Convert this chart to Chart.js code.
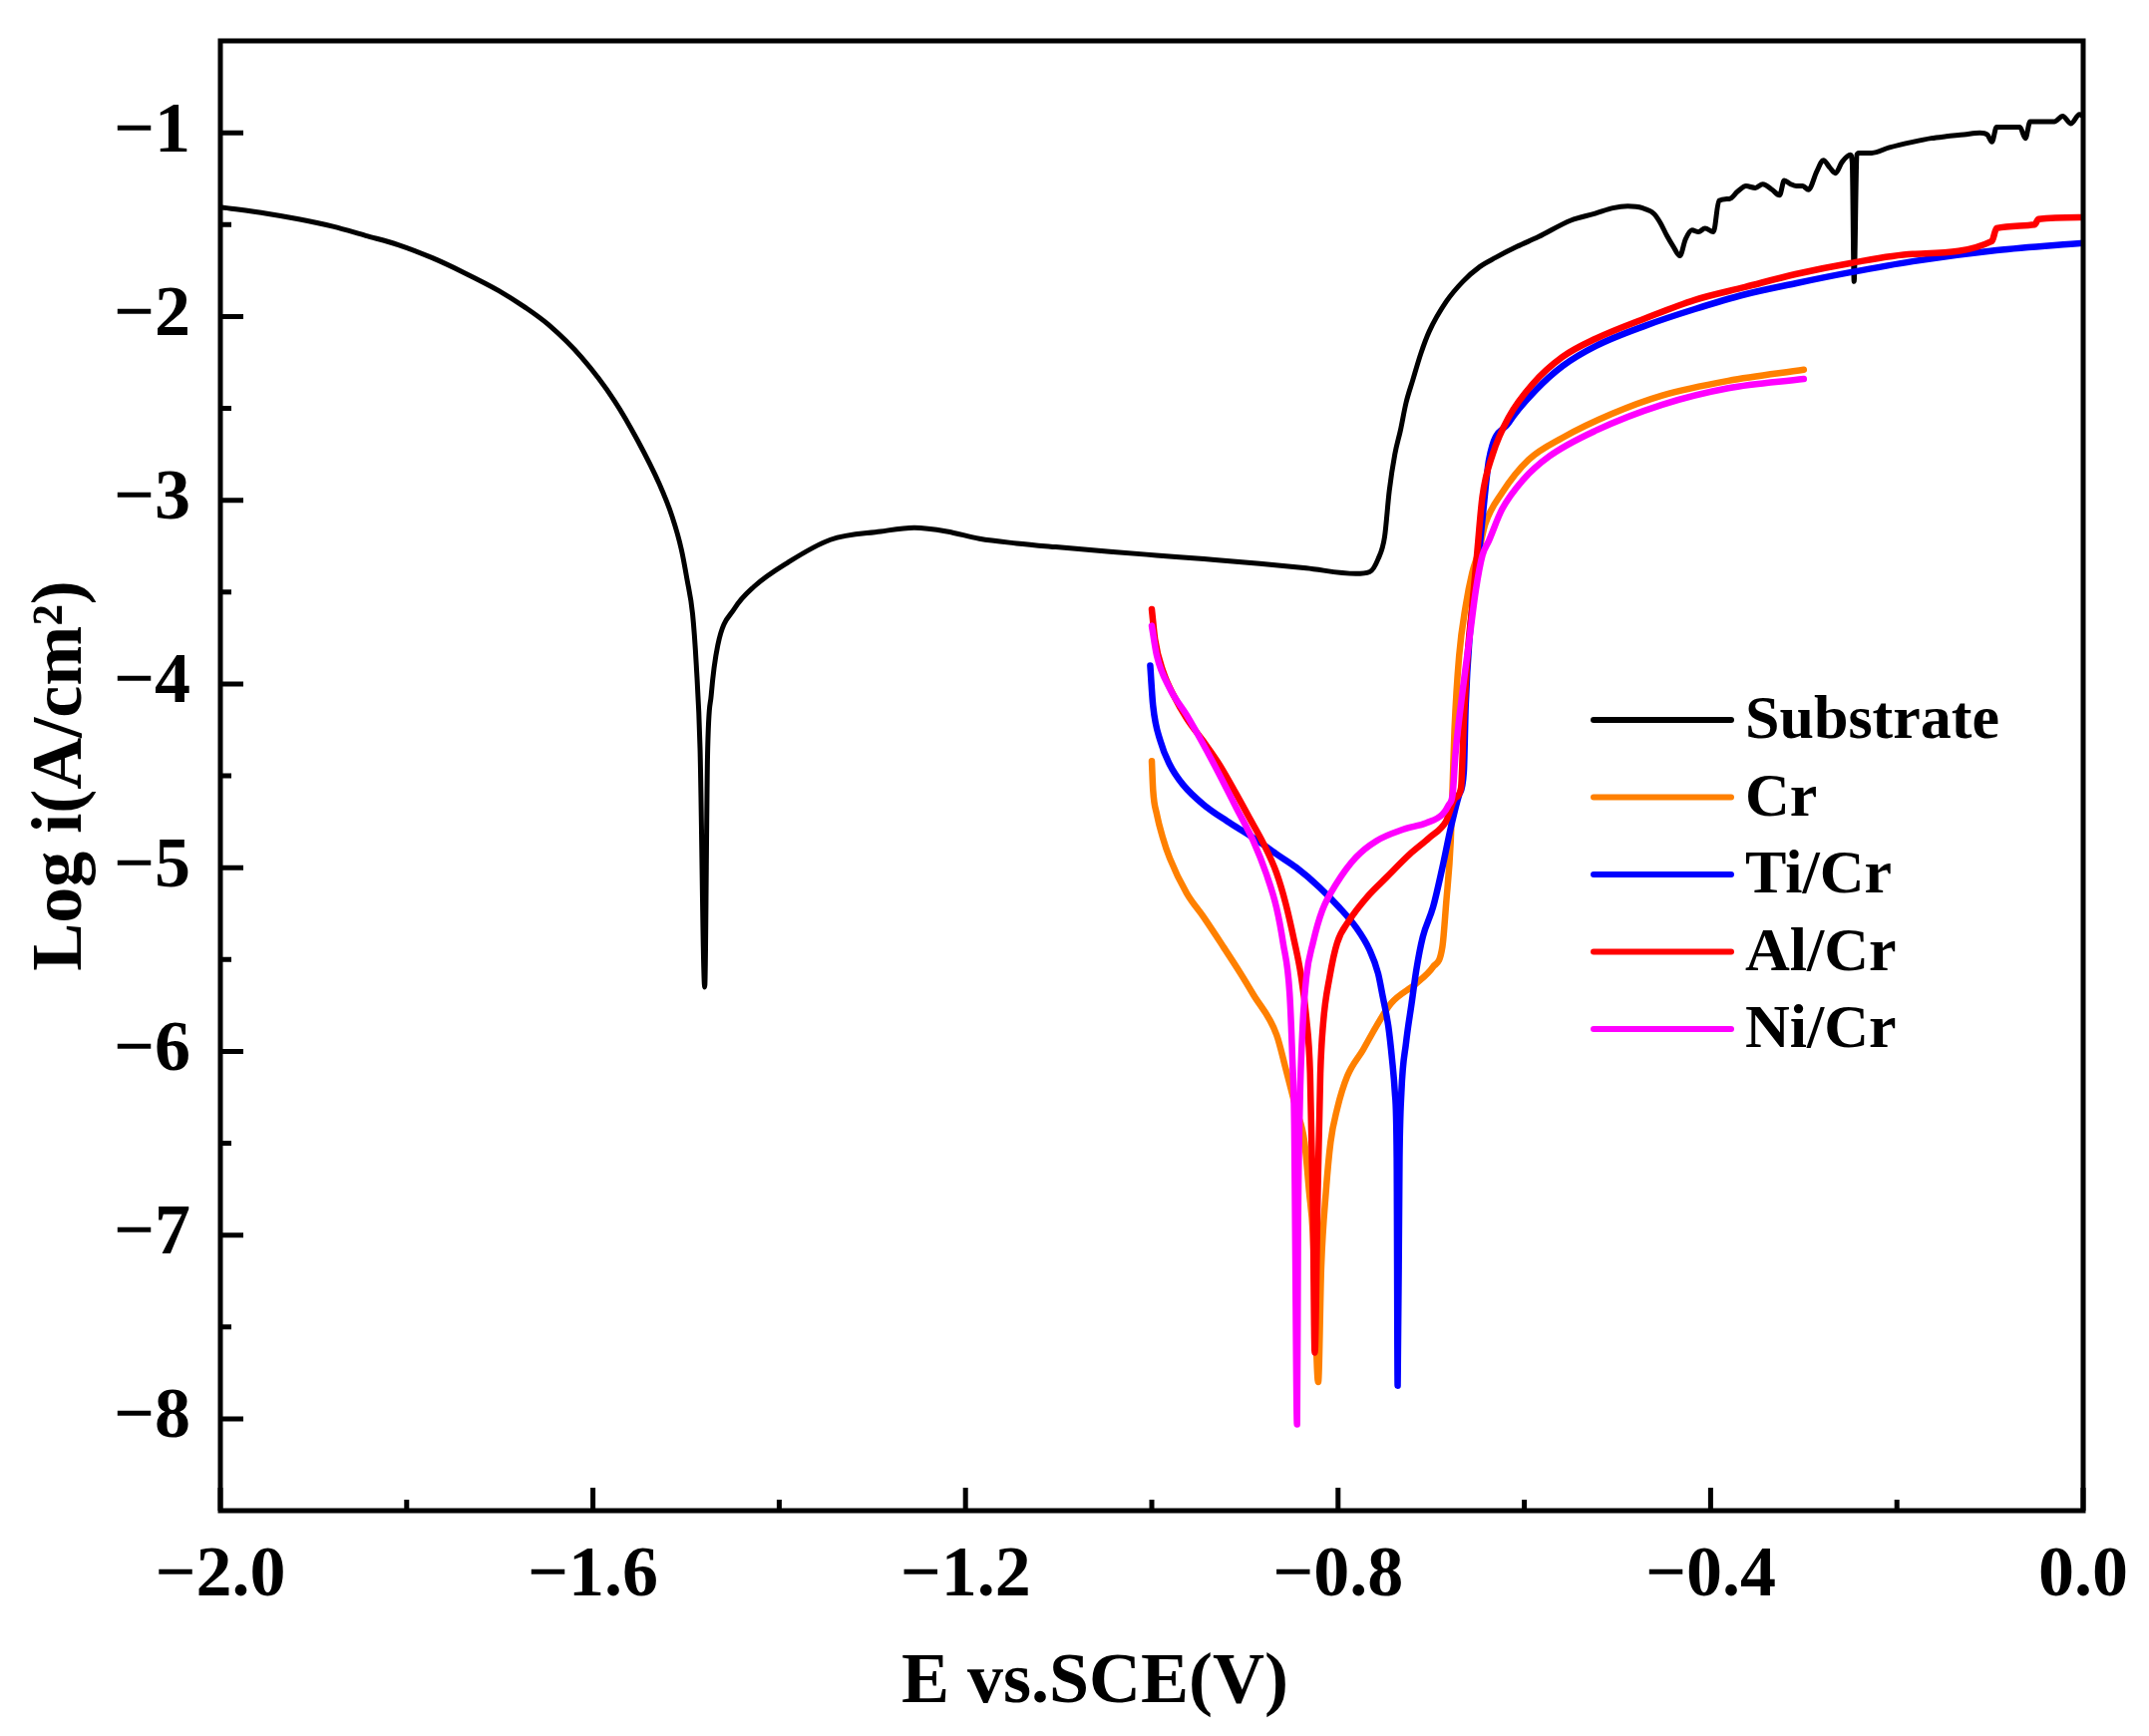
<!DOCTYPE html>
<html><head><meta charset="utf-8">
<script src="https://cdn.jsdelivr.net/npm/chart.js@4.4.0/dist/chart.umd.min.js"></script>
<style>html,body{margin:0;padding:0;background:#fff;}canvas{display:block;}</style>
</head><body>
<canvas id="c" width="2155" height="1741"></canvas>
<script>
const seriesNames = ['Substrate', 'Cr', 'Ti/Cr', 'Al/Cr', 'Ni/Cr'];
const seriesColors = ['#000000', '#FF8000', '#0000FF', '#FF0000', '#FF00FF'];

const substrateE = [-2.000,-1.950,-1.916,-1.879,-1.844,-1.809,-1.773,-1.739,-1.701,-1.673,-1.648,-1.612,-1.577,-1.552,-1.529,-1.515,-1.505,-1.499,-1.493,-1.489,-1.485,-1.480,-1.477,-1.473,-1.466,-1.448,-1.427,-1.391,-1.345,-1.291,-1.255,-1.220,-1.185,-1.145,-1.103,-1.045,-0.995,-0.944,-0.884,-0.834,-0.781,-0.766,-0.757,-0.750,-0.745,-0.739,-0.733,-0.727,-0.720,-0.711,-0.702,-0.684,-0.666,-0.648,-0.631,-0.608,-0.585,-0.550,-0.524,-0.505,-0.489,-0.473,-0.461,-0.454,-0.447,-0.440,-0.433,-0.427,-0.420,-0.413,-0.406,-0.397,-0.391,-0.380,-0.371,-0.362,-0.352,-0.344,-0.334,-0.326,-0.321,-0.314,-0.308,-0.301,-0.295,-0.286,-0.279,-0.272,-0.266,-0.259,-0.250,-0.248,-0.246,-0.243,-0.241,-0.227,-0.208,-0.183,-0.163,-0.147,-0.128,-0.111,-0.103,-0.098,-0.093,-0.079,-0.068,-0.062,-0.057,-0.044,-0.031,-0.022,-0.013,-0.004,0.000];
const substrateLogI = [-1.405,-1.44,-1.47,-1.51,-1.56,-1.61,-1.68,-1.76,-1.86,-1.95,-2.044,-2.224,-2.458,-2.675,-2.909,-3.089,-3.269,-3.43,-3.62,-3.90,-4.35,-5.65,-4.40,-4.06,-3.79,-3.59,-3.47,-3.34,-3.215,-3.17,-3.15,-3.17,-3.21,-3.235,-3.255,-3.28,-3.30,-3.32,-3.345,-3.37,-3.40,-3.39,-3.32,-3.20,-2.95,-2.75,-2.62,-2.47,-2.35,-2.20,-2.08,-1.92,-1.81,-1.73,-1.68,-1.62,-1.567,-1.477,-1.44,-1.41,-1.40,-1.41,-1.44,-1.49,-1.56,-1.62,-1.67,-1.58,-1.53,-1.54,-1.52,-1.54,-1.37,-1.36,-1.32,-1.29,-1.30,-1.28,-1.31,-1.34,-1.26,-1.28,-1.29,-1.29,-1.31,-1.21,-1.15,-1.19,-1.22,-1.16,-1.12,-1.16,-1.81,-1.12,-1.11,-1.11,-1.08,-1.05,-1.03,-1.02,-1.01,-1.00,-1.01,-1.05,-0.97,-0.97,-0.97,-1.03,-0.94,-0.94,-0.94,-0.91,-0.95,-0.90,-0.91];

const crE = [-1.000,-0.9986,-0.9946,-0.9886,-0.9806,-0.9625,-0.9444,-0.9233,-0.9042,-0.8911,-0.866,-0.856,-0.845,-0.836,-0.831,-0.827,-0.8213,-0.818,-0.813,-0.808,-0.801,-0.790,-0.773,-0.759,-0.743,-0.716,-0.698,-0.688,-0.684,-0.679,-0.677,-0.675,-0.670,-0.663,-0.656,-0.649,-0.642,-0.624,-0.5955,-0.559,-0.506,-0.452,-0.381,-0.300];
const crLogI = [-4.42,-4.58,-4.71,-4.83,-4.95,-5.14,-5.269,-5.43,-5.58,-5.69,-5.91,-6.098,-6.314,-6.494,-6.765,-6.99,-7.80,-7.17,-6.765,-6.494,-6.314,-6.134,-5.99,-5.864,-5.738,-5.63,-5.54,-5.431,-5.197,-4.85,-4.55,-4.25,-3.846,-3.576,-3.395,-3.28,-3.13,-2.96,-2.78,-2.66,-2.53,-2.43,-2.35,-2.29];

const tiCrE = [-1.0017,-0.9987,-0.9906,-0.9806,-0.9665,-0.9444,-0.9192,-0.891,-0.866,-0.845,-0.820,-0.799,-0.781,-0.766,-0.757,-0.752,-0.746,-0.742,-0.739,-0.737,-0.736,-0.734,-0.732,-0.727,-0.721,-0.716,-0.709,-0.698,-0.688,-0.679,-0.670,-0.665,-0.663,-0.659,-0.649,-0.643,-0.638,-0.617,-0.5875,-0.559,-0.523,-0.470,-0.417,-0.363,-0.309,-0.250,-0.183,-0.093,0.000];
const tiCrLogI = [-3.90,-4.116,-4.314,-4.44,-4.548,-4.657,-4.747,-4.837,-4.927,-4.999,-5.107,-5.215,-5.323,-5.45,-5.576,-5.702,-5.864,-6.044,-6.224,-6.58,-7.82,-6.58,-6.224,-5.954,-5.738,-5.558,-5.377,-5.215,-4.999,-4.783,-4.603,-4.477,-4.116,-3.756,-3.305,-3.00,-2.78,-2.58,-2.40,-2.27,-2.16,-2.05,-1.96,-1.88,-1.82,-1.76,-1.70,-1.64,-1.60];

const alCrE = [-1.000,-0.9966,-0.9876,-0.9766,-0.9625,-0.9444,-0.9273,-0.9092,-0.8951,-0.880,-0.866,-0.856,-0.847,-0.840,-0.834,-0.830,-0.827,-0.825,-0.822,-0.819,-0.816,-0.809,-0.801,-0.788,-0.769,-0.748,-0.723,-0.702,-0.684,-0.674,-0.668,-0.665,-0.661,-0.656,-0.651,-0.645,-0.634,-0.617,-0.5915,-0.559,-0.523,-0.470,-0.417,-0.363,-0.309,-0.250,-0.183,-0.098,-0.093,-0.052,-0.048,0.000];
const alCrLogI = [-3.594,-3.756,-3.936,-4.062,-4.188,-4.314,-4.44,-4.60,-4.73,-4.87,-5.03,-5.20,-5.40,-5.58,-5.82,-6.12,-6.82,-7.64,-6.82,-6.12,-5.85,-5.594,-5.41,-5.287,-5.161,-5.053,-4.927,-4.837,-4.747,-4.62,-4.567,-4.206,-3.846,-3.576,-3.305,-2.98,-2.75,-2.55,-2.37,-2.22,-2.12,-2.01,-1.91,-1.84,-1.77,-1.71,-1.66,-1.59,-1.52,-1.50,-1.47,-1.46];

const niCrE = [-1.000,-0.9946,-0.9806,-0.9625,-0.9444,-0.9273,-0.9092,-0.891,-0.877,-0.866,-0.859,-0.852,-0.849,-0.847,-0.846,-0.844,-0.843,-0.841,-0.838,-0.834,-0.827,-0.817,-0.802,-0.781,-0.759,-0.730,-0.705,-0.688,-0.681,-0.677,-0.674,-0.666,-0.659,-0.652,-0.645,-0.638,-0.624,-0.6015,-0.573,-0.523,-0.452,-0.381,-0.300];
const niCrLogI = [-3.684,-3.846,-4.026,-4.170,-4.332,-4.495,-4.675,-4.855,-5.035,-5.22,-5.41,-5.684,-6.044,-6.40,-6.99,-8.03,-6.99,-6.29,-5.864,-5.594,-5.41,-5.233,-5.089,-4.945,-4.855,-4.792,-4.756,-4.71,-4.657,-4.60,-4.386,-4.026,-3.756,-3.486,-3.30,-3.22,-3.05,-2.89,-2.76,-2.62,-2.48,-2.39,-2.34];

const xTicks = [-2.0, -1.6, -1.2, -0.8, -0.4, 0.0];
const xMinorTicks = [-1.8, -1.4, -1.0, -0.6, -0.2];
const yTicks = [-8, -7, -6, -5, -4, -3, -2, -1];
const yMinorTicks = [-7.5, -6.5, -5.5, -4.5, -3.5, -2.5, -1.5];
const xTitle = 'E vs.SCE(V)';
const yTitle = 'Log i(A/cm\u00B2)';

const FONT = "'Liberation Serif', 'Times New Roman', serif";
const fmt = (v, d) => (v < 0 ? '\u2212' : '') + Math.abs(v).toFixed(d);
const toPts = (xs, ys) => xs.map((x, i) => ({x: x, y: ys[i]}));
const allE = [substrateE, crE, tiCrE, alCrE, niCrE];
const allI = [substrateLogI, crLogI, tiCrLogI, alCrLogI, niCrLogI];

const datasets = seriesNames.map((n, i) => ({
  label: n,
  data: toPts(allE[i], allI[i]),
  borderColor: seriesColors[i],
  backgroundColor: seriesColors[i],
  borderWidth: i === 0 ? 5 : 6.5,
  pointRadius: 0,
  showLine: true,
  cubicInterpolationMode: 'monotone',
  fill: false,
  order: seriesNames.length - i,
  borderJoinStyle: 'round',
  borderCapStyle: 'round'
}));

const framePlugin = {
  id: 'frame',
  afterDatasetsDraw(chart) {
    const {ctx, chartArea: a, scales: {x, y}} = chart;
    ctx.save();
    ctx.strokeStyle = '#000';
    ctx.lineWidth = 5;
    ctx.lineCap = 'butt';
    ctx.beginPath();
    xTicks.forEach(v => { const p = x.getPixelForValue(v); ctx.moveTo(p, a.bottom); ctx.lineTo(p, a.bottom - 23); });
    xMinorTicks.forEach(v => { const p = x.getPixelForValue(v); ctx.moveTo(p, a.bottom); ctx.lineTo(p, a.bottom - 11); });
    yTicks.forEach(v => { const p = y.getPixelForValue(v); ctx.moveTo(a.left, p); ctx.lineTo(a.left + 23, p); });
    yMinorTicks.forEach(v => { const p = y.getPixelForValue(v); ctx.moveTo(a.left, p); ctx.lineTo(a.left + 11, p); });
    ctx.stroke();
    ctx.strokeRect(a.left, a.top, a.right - a.left, a.bottom - a.top);
    ctx.restore();
  }
};

const labelPlugin = {
  id: 'labels',
  afterDraw(chart) {
    const {ctx} = chart;
    ctx.save();
    ctx.fillStyle = '#000';
    ctx.textBaseline = 'middle';
    ctx.textAlign = 'center';
    ctx.font = "bold 72px " + FONT;
    ctx.fillText(xTitle, 1098, 1688);
    const x0 = 1598, x1 = 1736, tx = 1750, y0 = 722, dy = 77.5;
    ctx.font = "bold 62px " + FONT;
    ctx.textAlign = 'left';
    chart.data.datasets.forEach((d, i) => {
      const yy = y0 + i * dy;
      ctx.strokeStyle = d.borderColor;
      ctx.lineWidth = 6;
      ctx.lineCap = 'round';
      ctx.beginPath(); ctx.moveTo(x0, yy); ctx.lineTo(x1, yy); ctx.stroke();
      ctx.fillText(d.label, tx, yy + 2);
    });
    ctx.restore();
  }
};

new Chart(document.getElementById('c'), {
  type: 'scatter',
  data: {datasets: datasets},
  options: {
    responsive: false,
    animation: false,
    devicePixelRatio: 1,
    layout: {padding: {left: 0, top: 41, right: 66, bottom: 0}},
    plugins: {legend: {display: false}, tooltip: {enabled: false}, title: {display: false}},
    scales: {
      x: {
        type: 'linear', min: -2, max: 0,
        afterBuildTicks: s => { s.ticks = xTicks.map(v => ({value: v})); },
        afterFit: s => { s.height = 226; s.paddingLeft = 0; s.paddingRight = 0; },
        grid: {display: false, drawTicks: false},
        border: {display: false},
        ticks: {callback: v => fmt(v, 1), font: {family: FONT, size: 72, weight: 'bold'}, color: '#000', padding: 23, maxRotation: 0, autoSkip: false},
        title: {display: false}
      },
      y: {
        type: 'linear', min: -8.5, max: -0.5,
        afterBuildTicks: s => { s.ticks = yTicks.map(v => ({value: v})); },
        afterFit: s => { s.width = 221; s.paddingTop = 0; s.paddingBottom = 0; },
        grid: {display: false, drawTicks: false},
        border: {display: false},
        ticks: {callback: v => fmt(v, 0), font: {family: FONT, size: 72, weight: 'bold'}, color: '#000', padding: 30, autoSkip: false},
        title: {display: true, text: yTitle, font: {family: FONT, size: 72, weight: 'bold'}, color: '#000', padding: {top: 19, bottom: 0}}
      }
    }
  },
  plugins: [framePlugin, labelPlugin]
});
</script>
</body></html>
